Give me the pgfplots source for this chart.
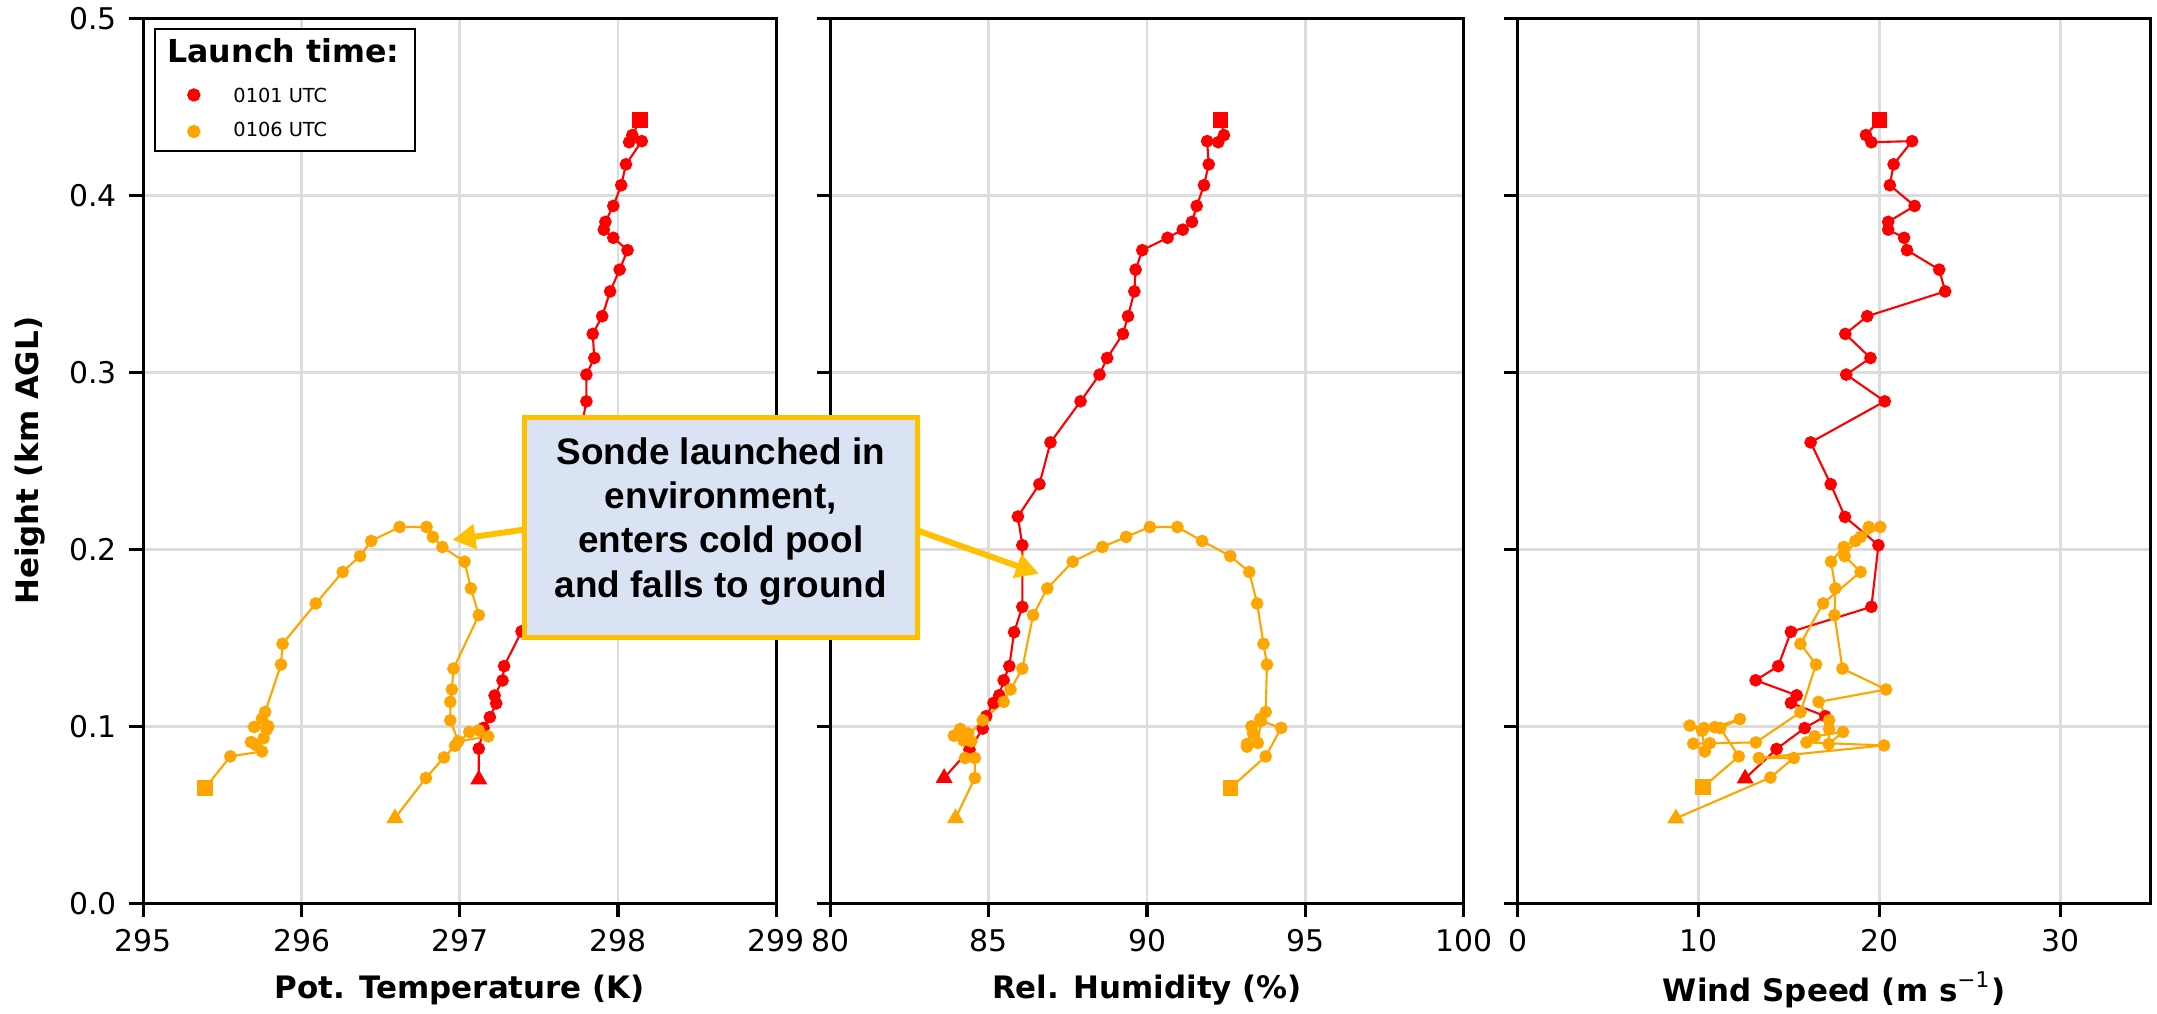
\documentclass[border=0pt]{standalone}
\usepackage{pgfplots}
\pgfplotsset{compat=1.18}
\usepackage{pgfplotstable}
\usetikzlibrary{arrows.meta}
\usepackage{fontspec}
\setmainfont{DejaVu Sans}
\newfontfamily\arialfont{Liberation Sans}

\definecolor{myred}{HTML}{FF0000}
\definecolor{myorange}{HTML}{FFA500}
\definecolor{boxfill}{HTML}{DAE3F3}
\definecolor{boxedge}{HTML}{FFC000}
\definecolor{gridc}{HTML}{DCDCDC}

% 0101 UTC sonde
\pgfplotstableread{
v h
297.12 0.0700
297.12 0.0874
297.15 0.0991
297.19 0.1052
297.23 0.1129
297.22 0.1174
297.27 0.1259
297.28 0.1340
297.39 0.1536
297.45 0.1675
297.58 0.2023
297.63 0.2185
297.69 0.2368
297.75 0.2604
297.80 0.2836
297.80 0.2987
297.85 0.3081
297.84 0.3217
297.90 0.3317
297.95 0.3457
298.01 0.3580
298.06 0.3690
297.97 0.3760
297.91 0.3806
297.92 0.3850
297.97 0.3940
298.02 0.4057
298.05 0.4175
298.15 0.4306
298.07 0.4300
298.09 0.4340
298.14 0.4425
}\rT
\pgfplotstableread{
v h
83.59 0.0708
84.39 0.0868
84.81 0.0987
84.92 0.1057
85.15 0.1132
85.33 0.1175
85.47 0.1260
85.65 0.1340
85.80 0.1532
86.06 0.1675
86.06 0.2023
85.92 0.2185
86.60 0.2368
86.95 0.2604
87.90 0.2836
88.50 0.2987
88.74 0.3081
89.24 0.3217
89.40 0.3317
89.60 0.3457
89.64 0.3580
89.85 0.3690
90.65 0.3760
91.13 0.3806
91.42 0.3850
91.57 0.3940
91.80 0.4057
91.95 0.4175
91.90 0.4306
92.25 0.4300
92.43 0.4340
92.33 0.4425
}\rR
\pgfplotstableread{
v h
12.58 0.0705
14.32 0.0872
15.87 0.0990
17.01 0.1057
15.11 0.1132
15.43 0.1175
13.16 0.1260
14.41 0.1340
15.11 0.1534
19.56 0.1675
19.95 0.2023
18.10 0.2183
17.31 0.2368
16.20 0.2604
20.30 0.2836
18.17 0.2987
19.51 0.3081
18.12 0.3217
19.33 0.3317
23.64 0.3457
23.31 0.3580
21.53 0.3690
21.37 0.3760
20.49 0.3806
20.49 0.3850
21.95 0.3940
20.58 0.4057
20.79 0.4175
21.81 0.4306
19.56 0.4300
19.26 0.4340
20.00 0.4425
}\rW
% 0106 UTC sonde
\pgfplotstableread{
v h
296.59 0.0481
296.786 0.0708
296.90 0.0824
296.97 0.0890
297.06 0.0968
297.12 0.0977
297.18 0.0943
296.99 0.0915
296.94 0.1034
296.94 0.1138
296.95 0.1208
296.96 0.1326
297.12 0.1628
297.07 0.1779
297.03 0.1930
296.89 0.2013
296.83 0.2070
296.79 0.2126
296.62 0.2126
296.44 0.2047
296.37 0.1962
296.26 0.1872
296.09 0.1694
295.88 0.1466
295.87 0.1349
295.77 0.1081
295.75 0.1042
295.79 0.1000
295.70 0.0996
295.78 0.0981
295.76 0.0932
295.68 0.0911
295.71 0.0896
295.75 0.0858
295.55 0.0830
295.39 0.0651
}\oT
\pgfplotstableread{
v h
83.95 0.0481
84.56 0.0708
84.56 0.0821
84.25 0.0821
84.45 0.0915
84.35 0.0960
84.10 0.0985
83.90 0.0947
84.20 0.0920
84.81 0.1034
85.47 0.1138
85.69 0.1208
86.06 0.1326
86.40 0.1628
86.85 0.1779
87.65 0.1930
88.59 0.2013
89.34 0.2070
90.09 0.2126
90.96 0.2126
91.74 0.2047
92.63 0.1962
93.23 0.1872
93.48 0.1694
93.68 0.1466
93.79 0.1349
93.75 0.1081
93.58 0.1042
93.30 0.1000
93.35 0.0960
93.16 0.0900
93.16 0.0885
93.50 0.0906
93.60 0.1030
94.24 0.0991
93.75 0.0830
92.63 0.0651
}\oR
\pgfplotstableread{
v h
8.75 0.0480
13.98 0.0711
15.27 0.0821
13.34 0.0821
20.26 0.0892
15.97 0.0909
16.43 0.0943
17.99 0.0968
17.20 0.0900
17.22 0.0985
17.22 0.1034
16.64 0.1138
20.37 0.1208
17.96 0.1326
17.52 0.1628
17.57 0.1779
17.33 0.1930
18.03 0.2013
18.96 0.2070
19.42 0.2126
20.05 0.2126
18.68 0.2047
18.08 0.1962
18.96 0.1872
16.89 0.1694
15.64 0.1466
16.50 0.1349
15.64 0.1080
13.17 0.0909
10.63 0.0904
9.71 0.0902
10.35 0.0858
10.20 0.0975
9.52 0.1004
10.30 0.0990
10.90 0.0995
12.29 0.1041
11.20 0.0990
12.23 0.0830
10.26 0.0657
}\oW

% #1 table, #2 colour, #3 last index (N-1), #4 N
\newcommand{\sonde}[4]{%
  \addplot[#2, line width=0.6pt, no marks, forget plot] table[x=v,y=h]{#1};
  \addplot[#2, only marks, mark=*, mark size=1.6pt, forget plot,
    skip coords between index={0}{1}, skip coords between index={#3}{#4}] table[x=v,y=h]{#1};
  \addplot[#2, only marks, mark=triangle*, mark size=2.4pt, forget plot,
    skip coords between index={1}{#4}] table[x=v,y=h]{#1};
  \addplot[#2, only marks, mark=square*, mark size=2pt, forget plot,
    skip coords between index={0}{#3}] table[x=v,y=h]{#1};
}

\pgfplotsset{
  panel/.style={
    scale only axis, width=6.33cm, height=8.85cm, anchor=south west,
    ymin=0, ymax=0.5, ytick={0,0.1,0.2,0.3,0.4,0.5},
    tick pos=left, tick align=outside, major tick length=0.14cm,
    every tick/.style={black, line width=0.9pt},
    axis line style={line width=0.9pt},
    grid=major, major grid style={gridc, line width=0.75pt},
    tick label style={font=\fontsize{8.5}{10}\selectfont},
    /pgf/number format/assume math mode=true,
    label style={font=\bfseries\fontsize{8.8}{10.5}\selectfont},
    xlabel style={at={(axis description cs:0.5,-0.098)}, anchor=center},
  },
}

\begin{document}
\begin{tikzpicture}
\useasboundingbox (-1.433,-1.097) rectangle (20.137,9.033);

\begin{axis}[panel, at={(0cm,0cm)},
  xmin=295, xmax=299, xtick={295,296,297,298,299},
  yticklabel style={/pgf/number format/.cd, fixed, fixed zerofill, precision=1},
  xlabel={Pot. Temperature (K)}, ylabel={Height (km AGL)},
  ylabel style={at={(axis description cs:-0.179,0.5)}, anchor=center},
  legend style={at={(axis description cs:0.0169,0.989)}, anchor=north west,
    draw=black, line width=0.6pt, fill=white, inner xsep=2.5pt, inner ysep=0.8pt,
    row sep=0pt, font=\fontsize{5.5}{6.5}\selectfont,
    /tikz/every odd column/.append style={column sep=0.27cm}},
  legend cell align=left]
  \addlegendimage{empty legend}
  \addlegendentry{\hspace*{-0.66cm}\bfseries\fontsize{9}{10.8}\selectfont Launch time:}
  \addlegendimage{only marks, mark=*, mark size=1.6pt, color=myred}
  \addlegendentry{\rule{0pt}{5.7pt}0101 UTC}
  \addlegendimage{only marks, mark=*, mark size=1.6pt, color=myorange}
  \addlegendentry{0106 UTC\rule[-1.6pt]{0pt}{1pt}}
  \sonde{\rT}{myred}{31}{32}
  \sonde{\oT}{myorange}{35}{36}
\end{axis}

\begin{axis}[panel, at={(6.872cm,0cm)},
  xmin=80, xmax=100, xtick={80,85,90,95,100}, yticklabels={},
  xlabel={Rel. Humidity (\%)}]
  \sonde{\rR}{myred}{31}{32}
  \sonde{\oR}{myorange}{36}{37}
\end{axis}

\begin{axis}[panel, at={(13.743cm,0cm)},
  xmin=0, xmax=35, xtick={0,10,20,30}, yticklabels={},
  xlabel={Wind Speed (m s\textsuperscript{\mdseries −1})}]
  \sonde{\rW}{myred}{31}{32}
  \sonde{\oW}{myorange}{39}{40}
\end{axis}

% annotation
\draw[boxedge, line width=1.7pt, -{Triangle[length=0.23cm, width=0.24cm]}] (3.85,3.743) -- (3.092,3.634);
\draw[boxedge, line width=1.7pt, -{Triangle[length=0.23cm, width=0.24cm]}] (7.70,3.743) -- (8.955,3.296);
\filldraw[fill=boxfill, draw=boxedge, line width=1.42pt] (3.815,2.658) rectangle (7.742,4.858);
\node[align=center, font=\arialfont\bfseries\fontsize{10.5}{12.6}\selectfont] at (5.775,3.82)
  {Sonde launched in\\environment,\\enters cold pool\\and falls to ground};
\end{tikzpicture}
\end{document}
